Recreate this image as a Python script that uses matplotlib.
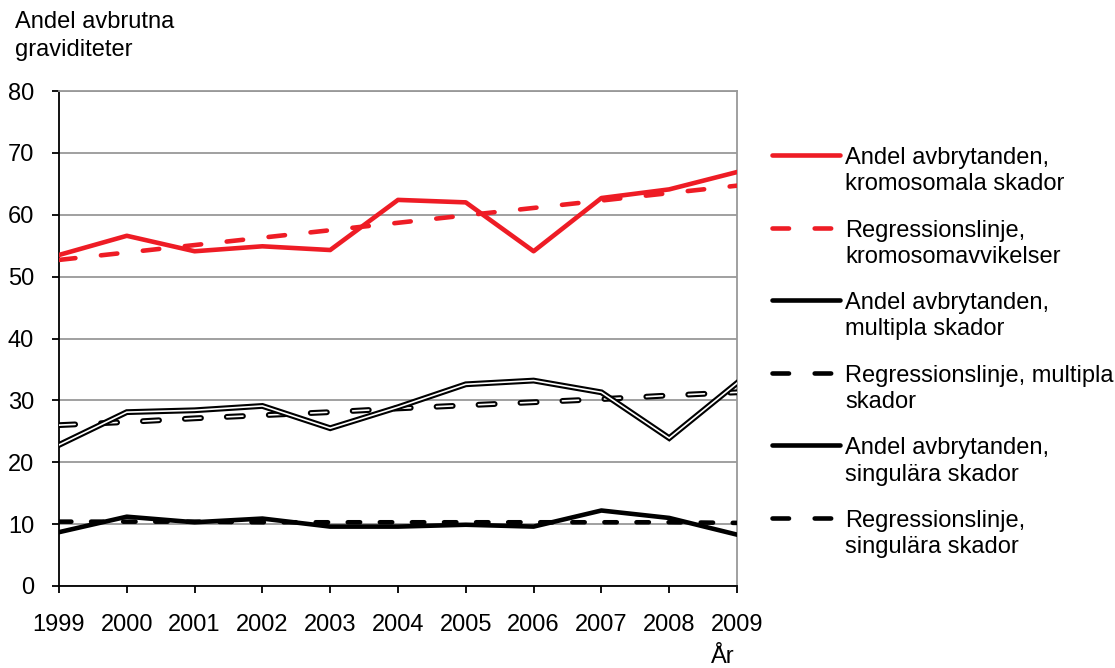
import matplotlib
matplotlib.use("Agg")
import matplotlib.pyplot as plt
from matplotlib.lines import Line2D
import matplotlib.patheffects as pe

plt.rcParams['font.family'] = ['Liberation Sans', 'DejaVu Sans']

years = [1999, 2000, 2001, 2002, 2003, 2004, 2005, 2006, 2007, 2008, 2009]
krom = [53.5, 56.6, 54.1, 54.9, 54.3, 62.4, 62.0, 54.1, 62.7, 64.1, 66.9]
krom_reg = [52.7, 53.9, 55.1, 56.3, 57.5, 58.7, 59.9, 61.1, 62.3, 63.5, 64.7]
mult = [22.8, 28.1, 28.4, 29.1, 25.5, 28.9, 32.6, 33.2, 31.3, 23.9, 32.8]
mult_reg = [26.0, 26.5, 27.1, 27.6, 28.1, 28.7, 29.2, 29.7, 30.2, 30.8, 31.3]
sing = [8.7, 11.2, 10.3, 10.9, 9.6, 9.6, 9.9, 9.6, 12.2, 11.0, 8.3]
sing_reg = [10.4, 10.4, 10.4, 10.3, 10.3, 10.3, 10.3, 10.3, 10.3, 10.3, 10.2]

labels = ["Andel avbrytanden,\nkromosomala skador",
          "Regressionslinje,\nkromosomavvikelser",
          "Andel avbrytanden,\nmultipla skador",
          "Regressionslinje, multipla\nskador",
          "Andel avbrytanden,\nsingulära skador",
          "Regressionslinje,\nsingulära skador"]

RED = '#ee1c25'
FS = 17
W, H = 1115, 668
LW = 3.3
DASH_LONG = (3.6, 5.6)
DASH_SHORT = (2.7, 4.3)

fig = plt.figure(figsize=(W / 100, H / 100), dpi=100)
ax = fig.add_axes([59 / W, 82 / H, (737 - 59) / W, (586 - 91) / H])

ax.set_xlim(1999, 2009)
ax.set_ylim(0, 80)
ax.set_yticks(range(0, 81, 10))
ax.set_xticks(years)
ax.grid(axis='y', color='#999999', lw=1.3)
ax.set_axisbelow(True)
for s in ['top', 'right']:
    ax.spines[s].set_color('#999999')
    ax.spines[s].set_linewidth(1.3)
for s in ['left', 'bottom']:
    ax.spines[s].set_color('black')
    ax.spines[s].set_linewidth(1.3)
ax.tick_params(axis='both', labelsize=FS, length=5, width=1.3, direction='out')
ax.tick_params(axis='y', pad=13)
ax.tick_params(axis='x', pad=15)

# double (outlined) lines for multipla
ax.plot(years, mult, color='white', lw=1.2, solid_joinstyle='miter', zorder=4,
        path_effects=[pe.Stroke(linewidth=4.2, foreground='black'), pe.Normal()])
ax.plot(years, mult_reg, color='white', lw=1.2, dashes=(9.7, 15.5), dash_capstyle='round', zorder=3,
        path_effects=[pe.Stroke(linewidth=4.2, foreground='black', capstyle='round'), pe.Normal()])

ax.plot(years, sing_reg, color='black', lw=LW, dashes=DASH_SHORT, dash_capstyle='round', zorder=3)
ax.plot(years, sing, color='black', lw=LW, zorder=4)
ax.plot(years, krom_reg, color=RED, lw=LW, dashes=DASH_LONG, dash_capstyle='round', zorder=3)
ax.plot(years, krom, color=RED, lw=LW, zorder=4)

fig.text(15 / W, 1 - 36 / H, "Andel avbrutna\ngraviditeter", fontsize=FS, va='center', ha='left',
         linespacing=1.35)
fig.text(723 / W, 1 - 657 / H, "År", fontsize=FS, va='center', ha='center')

# manual legend (handle aligned with first text line, as in the original)
styles = [dict(color=RED, solid_capstyle='round'),
          dict(color=RED, dashes=DASH_LONG, dash_capstyle='round'),
          dict(color='black', solid_capstyle='round'),
          dict(color='black', dashes=DASH_LONG, dash_capstyle='round'),
          dict(color='black', solid_capstyle='round'),
          dict(color='black', dashes=DASH_LONG, dash_capstyle='round')]
y0, pitch = 155, 72.6
for i, (lab, st) in enumerate(zip(labels, styles)):
    yy = 1 - (y0 + i * pitch) / H
    fig.add_artist(Line2D([772.3 / W, 839.7 / W], [yy, yy], transform=fig.transFigure, lw=LW, **st))
    fig.text(845 / W, 1 - (y0 + i * pitch - 8) / H, lab, fontsize=FS, va='top', ha='left',
             linespacing=1.25)

fig.savefig("out.png", dpi=100)
